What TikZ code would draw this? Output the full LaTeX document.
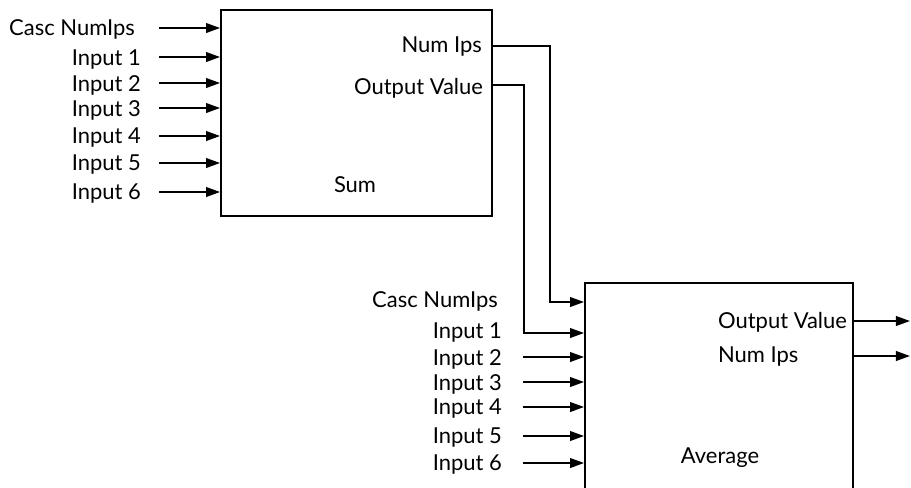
\documentclass[tikz,border=0pt]{standalone}
\usepackage{fontspec}
\setmainfont{Lato}
\usetikzlibrary{arrows.meta, positioning}

\tikzset{
  blk/.style={draw, line width=1.1pt, inner sep=0pt},
  lbl/.style={font=\fontsize{12.5}{14}\selectfont, inner sep=1pt},
  sig/.style={line width=1.1pt, -{Triangle[length=8pt,width=5.5pt]}},
}

\begin{document}
\begin{tikzpicture}[x=0.02cm, y=-0.02cm]
\useasboundingbox (0,0) rectangle (911,487);
\clip (0,0) rectangle (911,487);
% Sum block
\node[blk, minimum width=5.42cm, minimum height=4.12cm] (sum) at (356.5,113) {};
\node[lbl] (sumname) at (355,185) {Sum};
% Average block (runs off the bottom)
\node[blk, minimum width=5.36cm, minimum height=4.4cm] (avg) at (719,393) {};
\node[lbl] (avgname) at (720,458) {Average};
% Sum inputs
\foreach \txt/\x/\y [count=\i] in {Casc NumIps/137/29, Input 1/143/59, Input 2/143/85,
    Input 3/143/110, Input 4/143/138, Input 5/143/165, Input 6/143/194} {
  \node[lbl, anchor=east] (sumin\i) at (\x,\y) {\txt};
}
\foreach \y [count=\i] in {28,57,83,108,136,163,192} {
  \coordinate (sumsrc\i) at (159,\y);
  \draw[sig] (sumsrc\i) -- (sum.west |- sumsrc\i);
}
% Average inputs
\foreach \txt/\x/\y [count=\i] in {Casc NumIps/500/301, Input 1/504/332, Input 2/504/359,
    Input 3/504/384, Input 4/504/409, Input 5/504/438, Input 6/504/465} {
  \node[lbl, anchor=east] (avgin\i) at (\x,\y) {\txt};
}
\foreach \y [count=\i from 3] in {357,382,407,436,463} {
  \coordinate (avgsrc\i) at (523,\y);
  \draw[sig] (avgsrc\i) -- (avg.west |- avgsrc\i);
}
% Sum outputs
\node[lbl, anchor=east] (sumnum) at (484,47) {Num Ips};
\node[lbl, anchor=east] (sumout) at (485,88) {Output Value};
\coordinate (numport) at (492,46);
\coordinate (outport) at (492,85);
% links between the blocks
\draw[sig] (numport) -| (550,302) -- (avg.west |- 0,302);
\draw[sig] (outport) -| (524,333) -- (avg.west |- 0,333);
% Average outputs
\node[lbl, anchor=west] (avgout) at (716,322) {Output Value};
\node[lbl, anchor=west] (avgnum) at (716,357) {Num Ips};
\coordinate (outend) at (910,321);
\coordinate (numend) at (910,356);
\draw[sig] (avg.east |- outend) -- (outend);
\draw[sig] (avg.east |- numend) -- (numend);
\end{tikzpicture}
\end{document}
